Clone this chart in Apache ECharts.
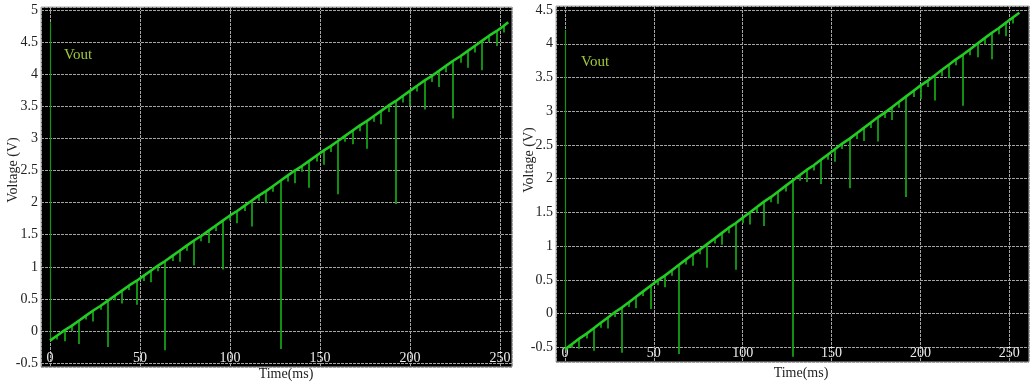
<!DOCTYPE html>
<html><head><meta charset="utf-8">
<script src="https://cdn.jsdelivr.net/npm/echarts@6/dist/echarts.min.js"></script>
<style>html,body{margin:0;padding:0;background:#fff}#c{width:1034px;height:383px}</style>
</head><body><div id="c"></div>
<script>
// ---- data ----
const stepTimes = [4,8,12,16,20,24,28,32,36,40,44,48,52,56,60,64,68,72,76,80,84,88,92,96,100,104,108,112,116,120,124,128,132,136,140,144,148,152,156,160,164,168,172,176,180,184,188,192,196,200,204,208,212,216,220,224,228,232,236,240,244,248,252];
const xTickLabels = [0,50,100,150,200,250];

// left panel
const leftStart = -0.15, leftEndTime = 254.6, leftEnd = 4.81, leftResetTop = 4.81;
const leftTop = [-0.07,0.01,0.08,0.16,0.24,0.32,0.39,0.47,0.55,0.63,0.71,0.78,0.86,0.94,1.02,1.09,1.17,1.25,1.33,1.41,1.48,1.56,1.64,1.72,1.80,1.87,1.95,2.03,2.11,2.18,2.26,2.34,2.42,2.50,2.57,2.65,2.73,2.81,2.88,2.96,3.04,3.12,3.20,3.27,3.35,3.43,3.51,3.58,3.66,3.74,3.82,3.90,3.97,4.05,4.13,4.21,4.28,4.36,4.44,4.52,4.60,4.67,4.75];
const leftLow = [-0.13,-0.16,0.00,-0.20,0.18,0.15,0.33,-0.25,0.48,0.43,0.64,0.41,0.78,0.76,0.93,-0.30,1.09,1.08,1.25,1.02,1.40,1.37,1.56,0.96,1.72,1.68,1.87,1.63,2.03,1.99,2.17,-0.28,2.33,2.30,2.48,2.23,2.64,2.59,2.79,2.13,2.95,2.91,3.11,2.84,3.26,3.22,3.41,1.98,3.56,3.50,3.73,3.45,3.88,3.80,4.03,3.31,4.18,4.10,4.34,4.06,4.50,4.44,4.65];

// right panel
const rightStart = -0.53, rightEndTime = 255.7, rightEnd = 4.46, rightResetTop = 4.2;
const rightTop = [-0.45,-0.37,-0.30,-0.22,-0.14,-0.06,0.02,0.09,0.17,0.25,0.33,0.41,0.49,0.56,0.64,0.72,0.80,0.88,0.95,1.03,1.11,1.19,1.27,1.34,1.42,1.50,1.58,1.66,1.73,1.81,1.89,1.97,2.05,2.13,2.20,2.28,2.36,2.44,2.52,2.59,2.67,2.75,2.83,2.91,2.98,3.06,3.14,3.22,3.30,3.38,3.45,3.53,3.61,3.69,3.77,3.84,3.92,4.00,4.08,4.16,4.23,4.31,4.39];
const rightLow = [-0.51,-0.52,-0.37,-0.55,-0.21,-0.22,-0.05,-0.58,0.10,0.08,0.26,0.07,0.42,0.39,0.56,-0.60,0.73,0.71,0.88,0.68,1.04,1.02,1.19,0.65,1.34,1.32,1.50,1.30,1.65,1.63,1.81,-0.64,1.97,1.95,2.12,1.92,2.28,2.25,2.44,1.86,2.59,2.56,2.75,2.55,2.90,2.87,3.05,1.73,3.21,3.18,3.36,3.16,3.52,3.49,3.68,3.08,3.83,3.80,3.99,3.77,4.14,4.11,4.30];

const seriesName = 'Vout';
const xName = 'Time(ms)';
const yName = 'Voltage (V)';

// ---- chart ----
const FONT = '"Liberation Serif", "Times New Roman", serif';
const gridLine = {show:true, lineStyle:{color:'#a4a4a4', width:1, type:[3,1]}};

function panelSeries(idx, start, top0, tops, lows, endT, endV) {
  const ramp = [[0, start]];
  const spikes = [{coords:[[0, top0],[0, start]], lineStyle:{width:1.2, color:'#129612'}}];
  for (let i = 0; i < stepTimes.length; i++) {
    ramp.push([stepTimes[i], tops[i]]);
    spikes.push({coords:[[stepTimes[i], tops[i]],[stepTimes[i], lows[i]]]});
  }
  ramp.push([endT, endV]);
  return [
    {type:'lines', coordinateSystem:'cartesian2d', xAxisIndex:idx, yAxisIndex:idx, polyline:false,
     data:spikes, silent:true, z:2, lineStyle:{color:'#16a816', width:1.7, opacity:1}},
    {type:'line', name:seriesName, xAxisIndex:idx, yAxisIndex:idx, data:ramp, showSymbol:false, symbol:'none',
     silent:true, z:3, lineStyle:{color:'#22cc22', width:2.6}}
  ];
}

function xAx(idx, min, max) {
  return {type:'value', gridIndex:idx, min:min, max:max, splitNumber:5,
    axisLine:{show:false}, axisTick:{show:false}, splitLine:gridLine,
    axisLabel:{inside:true, margin:2, color:'#ececec', fontFamily:FONT, fontSize:14,
      showMinLabel:false, showMaxLabel:false,
      formatter: v => (xTickLabels.indexOf(v) >= 0 ? String(v) : '')}};
}
function yAx(idx, min, max, split) {
  return {type:'value', gridIndex:idx, min:min, max:max, splitNumber:split,
    axisLine:{show:false}, axisTick:{show:false}, splitLine:gridLine,
    axisLabel:{margin:3, color:'#222', fontFamily:FONT, fontSize:14, showMinLabel:false, showMaxLabel:false}};
}

const chart = echarts.init(document.getElementById('c'), null, {renderer:'canvas'});
chart.setOption({
  animation:false,
  backgroundColor:'#fff',
  grid:[
    {left:41, top:7, width:471, height:360, show:true, backgroundColor:'#000', borderColor:'#a8a8a8', borderWidth:1},
    {left:556, top:6, width:473, height:356, show:true, backgroundColor:'#000', borderColor:'#a8a8a8', borderWidth:1}
  ],
  xAxis:[xAx(0, -5, 256.7), xAx(1, -5.06, 261.1)],
  yAxis:[yAx(0, -0.56, 5.047, 11), yAx(1, -0.717, 4.56, 10)],
  series:[].concat(
    panelSeries(0, leftStart, leftResetTop, leftTop, leftLow, leftEndTime, leftEnd),
    panelSeries(1, rightStart, rightResetTop, rightTop, rightLow, rightEndTime, rightEnd)
  ),
  graphic:[
    {type:'text', x:13, y:170, rotation:Math.PI/2, style:{text:yName, font:'14px ' + FONT, fill:'#222', align:'center', verticalAlign:'middle'}},
    {type:'text', x:529, y:160, rotation:Math.PI/2, style:{text:yName, font:'14px ' + FONT, fill:'#222', align:'center', verticalAlign:'middle'}},
    {type:'text', x:286, y:374, style:{text:xName, font:'14px ' + FONT, fill:'#222', align:'center', verticalAlign:'middle'}},
    {type:'text', x:801, y:373.5, style:{text:xName, font:'14px ' + FONT, fill:'#222', align:'center', verticalAlign:'middle'}},
    {type:'text', x:64, y:55, style:{text:seriesName, font:'15px ' + FONT, fill:'#a0c83a', align:'left', verticalAlign:'middle'}},
    {type:'text', x:581, y:62, style:{text:seriesName, font:'15px ' + FONT, fill:'#a0c83a', align:'left', verticalAlign:'middle'}}
  ]
});
</script>
</body></html>
